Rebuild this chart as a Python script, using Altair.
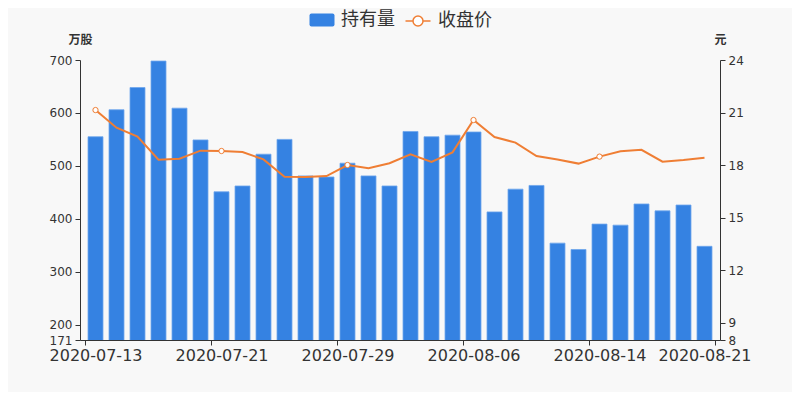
import json
import altair as alt
import pandas as pd

dates = ["2020-07-13", "2020-07-14", "2020-07-15", "2020-07-16", "2020-07-17",
         "2020-07-20", "2020-07-21", "2020-07-22", "2020-07-23", "2020-07-24",
         "2020-07-27", "2020-07-28", "2020-07-29", "2020-07-30", "2020-07-31",
         "2020-08-03", "2020-08-04", "2020-08-05", "2020-08-06", "2020-08-07",
         "2020-08-10", "2020-08-11", "2020-08-12", "2020-08-13", "2020-08-14",
         "2020-08-17", "2020-08-18", "2020-08-19", "2020-08-20", "2020-08-21"]
holdings = [555, 606, 648, 698, 609, 549, 451, 462, 522, 550,
            481, 479, 505, 481, 462, 565, 555, 558, 564, 413,
            456, 463, 354, 342, 390, 388, 428, 415, 426, 348]
close = [21.14, 20.13, 19.62, 18.30, 18.36, 18.82, 18.80, 18.74, 18.32, 17.33,
         17.31, 17.37, 18.00, 17.81, 18.10, 18.61, 18.17, 18.72, 20.57, 19.60,
         19.28, 18.51, 18.32, 18.08, 18.48, 18.78, 18.87, 18.19, 18.29, 18.42]
left_ticks = [171, 200, 300, 400, 500, 600, 700]
right_ticks = [8, 9, 12, 15, 18, 21, 24]
series_names = ["持有量", "收盘价"]

BLUE = "#3582e2"
ORANGE = "#ef7e34"
TXT = "#333333"

df = pd.DataFrame({"i": list(range(len(dates))), "date": dates,
                   "hold": holdings, "close": close,
                   "s_bar": [series_names[0]] * len(dates),
                   "s_line": [series_names[1]] * len(dates)})

label_every = [0, 6, 12, 18, 24, len(dates) - 1]
tick_vals = [0, 6, 12, 18, 24, len(dates)]
axis_values = sorted(set([float(v) for v in tick_vals] + [v + 0.5 for v in label_every]))
label_expr = ("datum.value % 1 == 0 ? '' : " + json.dumps(dates, ensure_ascii=False)
              + "[floor(datum.value)]")

x_axis = alt.Axis(values=axis_values, labelExpr=label_expr, title=None, grid=False,
                  labelOverlap=False, labelFlush=False, labelFontSize=16,
                  labelFont="DejaVu Sans", labelColor=TXT, labelPadding=2,
                  tickSize=5, tickColor=TXT, domainColor=TXT,
                  tickOpacity={"condition": {"test": "datum.value % 1 == 0", "value": 1}, "value": 0})
x_enc = alt.X("xc:Q", scale=alt.Scale(domain=[0, len(dates)], nice=False, zero=False), axis=x_axis)

common_y_axis = dict(grid=False, labelOverlap=False, labelFontSize=12, labelFont="DejaVu Sans",
                     labelColor=TXT, labelPadding=3, tickSize=5, tickColor=TXT, domainColor=TXT,
                     titleAngle=0, titleX=0, titleY=-21, titleAlign="center",
                     titleBaseline="middle", titleFont="Noto Sans CJK SC",
                     titleFontSize=12, titleFontWeight="bold", titleColor=TXT)

rect_path = ("M-1.05,-0.65 H1.05 Q1.25,-0.65 1.25,-0.45 V0.45 Q1.25,0.65 1.05,0.65 "
             "H-1.05 Q-1.25,0.65 -1.25,0.45 V-0.45 Q-1.25,-0.65 -1.05,-0.65 Z")
line_path = ("M-1.25,0 H-0.5 M0.5,0 H1.25 M0.5,0 A0.5,0.5 0 1 0 -0.5,0 "
             "A0.5,0.5 0 1 0 0.5,0 Z")

legend_common = dict(orient="none", legendY=-50, direction="horizontal", title=None,
                     labelFontSize=18, labelFont="Noto Sans CJK SC", labelColor=TXT,
                     symbolSize=400, labelOffset=9)
legend_bar = alt.Legend(legendX=232, symbolType=rect_path, symbolStrokeWidth=0,
                        symbolFillColor=BLUE, **legend_common)
legend_line = alt.Legend(legendX=327, symbolType=line_path, symbolStrokeWidth=1.5,
                         symbolFillColor="#ffffff", symbolStrokeColor="#f3955a",
                         **legend_common)

base = alt.Chart(df).transform_calculate(xc="datum.i + 0.5")

bars = base.mark_bar(size=15, clip=True, stroke="#6ea6ec", strokeWidth=0.8).encode(
    x=x_enc,
    y=alt.Y("hold:Q", scale=alt.Scale(domain=[171, 700], nice=False, zero=False),
            axis=alt.Axis(values=left_ticks, title="万股", orient="left", **common_y_axis)),
    fill=alt.Fill("s_bar:N", scale=alt.Scale(domain=[series_names[0]], range=[BLUE]),
                  legend=legend_bar),
)

right_axis = alt.Axis(values=right_ticks, title="元", orient="right", **common_y_axis)
y_right = alt.Y("close:Q", scale=alt.Scale(domain=[8, 24], nice=False, zero=False), axis=right_axis)

line = base.mark_line(strokeWidth=2).encode(
    x=x_enc, y=y_right,
    stroke=alt.Stroke("s_line:N", scale=alt.Scale(domain=[series_names[1]], range=[ORANGE]),
                      legend=legend_line),
)
points = base.transform_filter("datum.i % 6 == 0").mark_point(
    shape="circle", filled=True, fill="#ffffff", stroke=ORANGE, strokeWidth=1,
    size=28, opacity=1).encode(x=x_enc, y=y_right)

right_layer = alt.layer(line, points)

chart = alt.layer(bars, right_layer).resolve_scale(y="independent").properties(
    width=640, height=280,
    padding={"left": 72, "top": 52, "right": 72, "bottom": 52},
    autosize=alt.AutoSizeParams(type="none"),
    background="#f8f8f8",
).configure_view(stroke=None)

chart.save("out.html", embed_options={"renderer": "svg", "actions": False})
